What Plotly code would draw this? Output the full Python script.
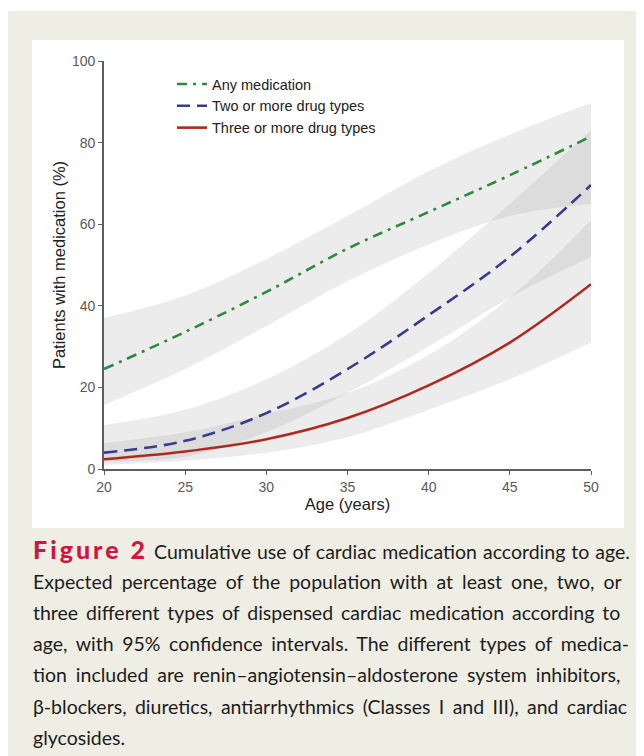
import plotly.graph_objects as go

# ---- data ----
age = [20, 25, 30, 35, 40, 45, 50]

any_med = [24.5, 33.6, 43.4, 54.0, 63.0, 72.0, 81.5]
any_lo = [15.7, 24.5, 35.0, 46.0, 55.0, 62.0, 65.0]
any_hi = [37.0, 42.5, 51.5, 62.0, 73.0, 82.0, 89.7]

two_plus = [4.0, 6.9, 13.7, 24.5, 37.7, 52.0, 69.6]
two_lo = [1.8, 3.0, 9.0, 18.6, 30.0, 42.0, 52.0]
two_hi = [10.8, 14.5, 22.0, 33.0, 48.0, 65.0, 83.0]

three_plus = [2.4, 4.3, 7.3, 12.5, 20.5, 31.0, 45.3]
three_lo = [1.0, 2.0, 4.0, 7.8, 14.5, 22.0, 31.0]
three_hi = [6.4, 9.0, 13.5, 18.6, 28.0, 42.0, 61.0]

series_names = ["Any medication", "Two or more drug types", "Three or more drug types"]
x_ticks = [20, 25, 30, 35, 40, 45, 50]
y_ticks = [0, 20, 40, 60, 80, 100]

caption_head = "Figure 2"
caption_lines = [
    " Cumulative use of cardiac medication according to age.",
    "Expected percentage of the population with at least one, two, or",
    "three different types of dispensed cardiac medication according to",
    "age, with 95% confidence intervals. The different types of medica-",
    "tion included are renin\u2013angiotensin\u2013aldosterone system inhibitors,",
    "\u03b2-blockers, diuretics, antiarrhythmics (Classes I and III), and cardiac",
    "glycosides.",
]
caption_word_spacing = [1.0, 4.0, 2.95, 3.65, 3.9, 3.4, 0.0]

# ---- layout geometry (figure pixels; page has an 8px body margin) ----
W, H = 636, 748
PL, PR, PT, PB = 96, 583, 53, 461


def px_x(px):
    return (px - PL) / (PR - PL)


def px_y(py):
    return (PB - py) / (PB - PT)


band_color = "rgba(150,150,150,0.18)"
colors = ["#2d8a3e", "#363c8e", "#b0291f"]
dashes = ["10px,6px,3px,6px", "13px,7px", "solid"]

fig = go.Figure()

bands = [(any_lo, any_hi), (two_lo, two_hi), (three_lo, three_hi)]
for lo, hi in bands:
    fig.add_trace(go.Scatter(x=age, y=lo, mode="lines", line=dict(width=0, shape="spline"),
                             showlegend=False, hoverinfo="skip"))
    fig.add_trace(go.Scatter(x=age, y=hi, mode="lines", line=dict(width=0, shape="spline"),
                             fill="tonexty", fillcolor=band_color, showlegend=False, hoverinfo="skip"))

for i, (name, vals, c, d) in enumerate(zip(series_names, [any_med, two_plus, three_plus], colors, dashes)):
    fig.add_trace(go.Scatter(x=age, y=vals, mode="lines", name=name, legendgroup="g%d" % i,
                             line=dict(color=c, width=2.6, dash=d, shape="spline")))

shapes = [
    dict(type="rect", xref="paper", yref="paper", layer="below",
         x0=px_x(-1), x1=px_x(W), y0=px_y(3), y1=px_y(H),
         fillcolor="#efeee4", line=dict(width=0)),
    dict(type="rect", xref="paper", yref="paper", layer="below",
         x0=px_x(24), x1=px_x(616), y0=px_y(32), y1=px_y(520),
         fillcolor="#ffffff", line=dict(width=0)),
]

annotations = []
line_y = [541, 573, 604, 635, 666, 698, 729]
for i, (txt, py, ws) in enumerate(zip(caption_lines, line_y, caption_word_spacing)):
    body = "<span style='word-spacing:%.2fpx'>%s</span>" % (ws, txt)
    if i == 0:
        body = ("<span style='color:#d3143c;font-size:25px;font-weight:900;letter-spacing:3px'>%s</span>"
                % caption_head) + body
    annotations.append(dict(text=body, xref="paper", yref="paper", x=px_x(23), y=px_y(py),
                            xanchor="left", yanchor="middle", showarrow=False,
                            font=dict(family="Lato", size=19.5, color="#1e1c1c")))

fig.update_layout(
    width=W, height=H,
    margin=dict(l=PL, r=W - PR, t=PT, b=H - PB),
    paper_bgcolor="#ffffff",
    plot_bgcolor="rgba(0,0,0,0)",
    font=dict(family="Liberation Sans, Arial", color="#222222"),
    shapes=shapes,
    annotations=annotations,
    showlegend=True,
    legend=dict(x=px_x(164), y=px_y(60), xanchor="left", yanchor="top",
                bgcolor="rgba(0,0,0,0)", font=dict(size=14.5, color="#222222"),
                traceorder="normal", tracegroupgap=3),
    xaxis=dict(range=[20, 50], tickvals=x_ticks, showgrid=False, zeroline=False,
               showline=True, linecolor="#5e5e5e", linewidth=1.6,
               ticks="outside", ticklen=4, tickcolor="#5e5e5e",
               tickfont=dict(size=14, color="#5a5a5a"),
               title=dict(text="Age (years)", font=dict(size=16.5, color="#222222"), standoff=0)),
    yaxis=dict(range=[0, 100], tickvals=y_ticks, showgrid=False, zeroline=False,
               showline=True, linecolor="#5e5e5e", linewidth=1.6,
               ticks="outside", ticklen=4, tickcolor="#5e5e5e",
               tickfont=dict(size=14, color="#5a5a5a"),
               title=dict(text="Patients with medication (%)", font=dict(size=16.5, color="#222222"),
                          standoff=2)),
)

fig.write_html("out.html")
